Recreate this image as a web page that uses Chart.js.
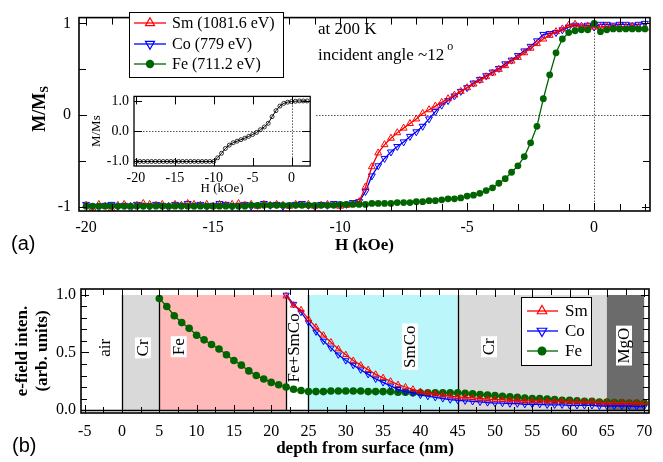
<!DOCTYPE html>
<html lang="en">
<head>
<meta charset="UTF-8">
<title>Element-resolved hysteresis and e-field depth profile</title>
<script src="https://cdn.jsdelivr.net/npm/chart.js"></script>
<style>
  html, body { margin: 0; padding: 0; background: #fff; }
  #page { position: relative; width: 663px; height: 462px; overflow: hidden; background: #fff; }
  .box { position: absolute; }
  #topBox { left: 0; top: 0; width: 663px; height: 260px; }
  #botBox { left: 0; top: 260px; width: 663px; height: 202px; }
  #insetBox { left: 87px; top: 83px; width: 228px; height: 115px; }
  .tag { position: absolute; font: 20px "Liberation Sans", Arial, sans-serif; line-height: 20px; color: #000; }
</style>
</head>
<body>
<div id="page">
  <div class="box" id="topBox"><canvas id="topChart"></canvas></div>
  <div class="box" id="botBox"><canvas id="botChart"></canvas></div>
  <div class="box" id="insetBox"><canvas id="insetChart"></canvas></div>
  <div class="tag" style="left:11px; top:233px;">(a)</div>
  <div class="tag" style="left:12px; top:435px;">(b)</div>
</div>

<script>
// ---- panel (a): M/Ms vs H ----
const hField = [-20,-19.75,-19.5,-19.25,-19,-18.75,-18.5,-18.25,-18,-17.75,-17.5,-17.25,-17,-16.75,-16.5,-16.25,
  -16,-15.75,-15.5,-15.25,-15,-14.75,-14.5,-14.25,-14,-13.75,-13.5,-13.25,-13,-12.75,-12.5,-12.25,-12,-11.75,-11.5,
  -11.25,-11,-10.75,-10.5,-10.25,-10,-9.75,-9.5,-9.25,-9,-8.75,-8.5,-8.25,-8,-7.75,-7.5,-7.25,-7,-6.75,-6.5,-6.25,
  -6,-5.75,-5.5,-5.25,-5,-4.75,-4.5,-4.25,-4,-3.75,-3.5,-3.25,-3,-2.75,-2.5,-2.25,-2,-1.75,-1.5,-1.25,-1,-0.75,
  -0.5,-0.25,0,0.25,0.5,0.75,1,1.25,1.5,1.75,2];

const smM = [-0.98,-1.01,-0.97,-0.99,-1.02,-0.98,-0.97,-0.99,-0.98,-0.96,-0.97,-0.98,-0.97,-0.99,-0.97,-0.98,
  -0.96,-0.97,-0.98,-0.97,-0.99,-0.97,-0.98,-0.97,-0.96,-0.98,-0.97,-0.99,-0.97,-0.98,-0.97,-0.98,-0.99,-0.97,-0.98,
  -0.97,-0.99,-0.98,-0.97,-0.98,-0.99,
  -0.98,-0.97,-0.94,-0.78,-0.56,-0.41,-0.32,-0.25,-0.19,-0.14,-0.09,-0.04,0.02,0.06,0.10,0.14,
  0.18,0.22,0.26,0.30,0.34,0.38,0.42,0.46,0.50,0.54,0.59,0.63,0.68,0.73,0.78,0.83,
  0.87,0.91,0.94,0.98,0.99,0.97,0.97,0.96,0.96,0.97,0.96,0.97,0.96,0.97,0.96,0.95];

const coM = [-0.97,-0.99,-1.00,-0.98,-0.97,-0.99,-0.98,-1.01,-0.97,-0.98,-0.99,-0.97,-0.98,-1.00,-0.97,-0.98,
  -0.96,-0.98,-0.97,-0.99,-0.98,-0.96,-0.97,-0.99,-0.98,-0.97,-0.99,-0.98,-0.96,-0.98,-0.97,-0.99,-0.98,-0.97,-0.96,
  -0.98,-0.99,-0.97,-0.98,-0.96,-0.98,
  -0.97,-0.95,-0.94,-0.83,-0.66,-0.55,-0.47,-0.40,-0.34,-0.29,-0.23,-0.18,-0.12,-0.04,0.04,0.11,
  0.16,0.21,0.26,0.30,0.35,0.39,0.43,0.47,0.51,0.56,0.60,0.65,0.70,0.75,0.81,0.88,
  0.89,0.90,0.93,0.96,0.98,0.97,0.98,0.96,0.99,0.99,0.98,0.99,0.99,0.98,0.99,1.00];

const feM = [-0.99,-0.99,-0.99,-0.99,-0.99,-0.99,-0.99,-0.99,-0.99,-0.99,-0.99,-0.99,-0.99,-0.99,-0.99,-0.99,
  -0.99,-0.99,-0.99,-0.99,-0.99,-0.99,-0.99,-0.99,-0.99,-0.99,-0.98,-0.98,-0.98,-0.98,-0.98,-0.98,-0.98,-0.98,-0.98,
  -0.98,-0.98,-0.98,-0.98,-0.98,-0.97,
  -0.97,-0.97,-0.97,-0.97,-0.96,-0.96,-0.96,-0.96,-0.95,-0.95,-0.95,-0.94,-0.94,-0.93,-0.93,-0.92,
  -0.91,-0.91,-0.90,-0.88,-0.87,-0.85,-0.82,-0.79,-0.74,-0.69,-0.62,-0.55,-0.45,-0.30,-0.12,0.18,
  0.44,0.68,0.83,0.90,0.92,0.93,0.93,1.00,0.91,0.93,0.94,0.94,0.94,0.94,0.94,0.94];

const hTicks = [-20, -15, -10, -5, 0];
const hMinor = [-19,-18,-17,-16,-14,-13,-12,-11,-9,-8,-7,-6,-4,-3,-2,-1,1,2];
const mTicks = [-1, 0, 1];
const mMinor = [-0.5, 0.5];

// inset: total M/Ms
const insetH = [-20,-19.5,-19,-18.5,-18,-17.5,-17,-16.5,-16,-15.5,-15,-14.5,-14,-13.5,-13,-12.5,-12,-11.5,-11,
  -10.5,-10,-9.5,-9,-8.5,-8,-7.5,-7,-6.5,-6,-5.5,-5,-4.5,-4,-3.5,-3,-2.5,-2,-1.5,-1,-0.5,0,0.5,1,1.5,2];
const insetM = [-1,-1,-1,-1,-1,-1,-1,-1,-1,-1,-1,-1,-1,-1,-1,-1,-1,-1,-1,-1,-1,
  -0.88,-0.73,-0.57,-0.46,-0.38,-0.33,-0.28,-0.23,-0.17,-0.11,-0.04,0.05,0.14,0.26,0.48,0.68,0.83,0.92,0.96,
  0.98,0.99,1.00,1.00,1.00];
const insetHTicks = [-20, -15, -10, -5, 0];
const insetMTicks = [-1, 0, 1];

// ---- panel (b): e-field intensity vs depth ----
const depth = [5,6,7,8,9,10,11,12,13,14,15,16,17,18,19,20,21,22,23,24,25,26,27,28,29,30,31,32,33,34,35,36,37,
  38,39,40,41,42,43,44,45,46,47,48,49,50,51,52,53,54,55,56,57,58,59,60,61,62,63,64,65,66,67,68,69,70];
const smField = [null,null,null,null,null,null,null,null,null,null,null,null,null,null,null,null,null,
  0.99,0.91,0.87,0.79,0.72,0.65,0.59,0.53,0.48,0.43,0.39,0.35,0.31,0.28,0.25,0.22,0.20,0.18,0.16,0.15,0.14,
  0.13,0.12,0.115,0.11,0.105,0.10,0.095,0.09,0.09,0.085,0.085,0.08,0.08,0.08,0.075,0.075,0.075,0.07,0.07,0.07,
  0.07,0.065,0.065,0.065,0.065,0.065,0.06,0.065];
const coField = [null,null,null,null,null,null,null,null,null,null,null,null,null,null,null,null,null,
  1.00,0.92,0.85,0.76,0.68,0.60,0.54,0.48,0.43,0.39,0.35,0.31,0.27,0.24,0.21,0.18,0.16,0.15,0.13,0.12,0.11,
  0.10,0.09,0.085,0.08,0.075,0.07,0.065,0.06,0.06,0.055,0.055,0.05,0.05,0.05,0.045,0.045,0.045,0.04,0.04,0.04,
  0.04,0.035,0.035,0.035,0.035,0.035,0.03,0.03];
const feField = [0.97,0.90,0.82,0.76,0.71,0.65,0.61,0.57,0.53,0.48,0.43,0.39,0.34,0.30,0.27,0.24,0.22,0.20,
  0.18,0.17,0.16,0.16,0.16,0.165,0.165,0.165,0.165,0.165,0.16,0.16,0.16,0.16,0.155,0.155,0.15,0.15,0.15,0.15,
  0.15,0.15,0.15,0.145,0.14,0.135,0.13,0.125,0.12,0.115,0.11,0.105,0.10,0.10,0.095,0.09,0.085,0.085,0.08,0.075,
  0.075,0.07,0.07,0.065,0.065,0.06,0.06,0.06];

const depthTicks = [-5,0,5,10,15,20,25,30,35,40,45,50,55,60,65,70];
const depthMinor = [-2.5,2.5,7.5,12.5,17.5,22.5,27.5,32.5,37.5,42.5,47.5,52.5,57.5,62.5,67.5];
const fieldTicks = [0, 0.5, 1];
const fieldMinor = [0.1,0.2,0.3,0.4,0.6,0.7,0.8,0.9];

// layer stack
const layerNames = ['air', 'Cr', 'Fe', 'Fe+SmCo', 'SmCo', 'Cr', 'MgO'];
const layerFrom  = [-5.5, 0, 5, 22, 25, 45, 65];
const layerTo    = [0, 5, 22, 25, 45, 65, 70];
const layerColor = [null, '#d9d9d9', '#ffb9b9', null, '#bbf7fa', '#d9d9d9', '#6b6b6b'];
const layerLabelAt = [[-2.3, 0.54], [2.8, 0.54], [7.6, 0.55], [23.0, 0.54], [38.6, 0.55], [49.2, 0.55], [67.3, 0.56]];

const SERIF = '"Liberation Serif", "Times New Roman", serif';
const RED = '#ff0000', BLUE = '#0000ff', GREEN = '#006400';
Chart.defaults.font.family = SERIF;
Chart.defaults.color = '#000';

const xy = (xs, ys) => xs.map((x, i) => ({ x: x, y: ys[i] }));
const f = (size, weight, lineHeight) => ({ family: SERIF, size: size, weight: weight || 'normal', lineHeight: lineHeight || 1.2 });

function marker(ctx, style, x, y, r) {
  ctx.beginPath();
  if (style === 'up') {
    ctx.moveTo(x, y - r); ctx.lineTo(x + r * 0.866, y + r / 2); ctx.lineTo(x - r * 0.866, y + r / 2);
    ctx.closePath(); ctx.stroke();
  } else if (style === 'down') {
    ctx.moveTo(x, y + r); ctx.lineTo(x + r * 0.866, y - r / 2); ctx.lineTo(x - r * 0.866, y - r / 2);
    ctx.closePath(); ctx.stroke();
  } else {
    ctx.arc(x, y, r, 0, Math.PI * 2); ctx.fill();
  }
}

// frame with inward ticks on all four sides
function framePlugin(cfg) {
  return {
    id: 'frame',
    afterDatasetsDraw(chart) {
      const { ctx, chartArea: a } = chart;
      const xs = chart.scales.x, ys = chart.scales.y;
      ctx.save();
      ctx.strokeStyle = '#000';
      ctx.lineWidth = 1;
      ctx.beginPath();
      const xt = (vals, len) => vals.forEach(v => {
        const p = Math.round(xs.getPixelForValue(v)) + 0.5;
        ctx.moveTo(p, a.bottom); ctx.lineTo(p, a.bottom - len);
        ctx.moveTo(p, a.top); ctx.lineTo(p, a.top + len);
      });
      const yt = (vals, len) => vals.forEach(v => {
        const p = Math.round(ys.getPixelForValue(v)) + 0.5;
        ctx.moveTo(a.left, p); ctx.lineTo(a.left + len, p);
        ctx.moveTo(a.right, p); ctx.lineTo(a.right - len, p);
      });
      xt(cfg.xMajor, cfg.major); xt(cfg.xMinor, cfg.minor);
      yt(cfg.yMajor, cfg.major); yt(cfg.yMinor, cfg.minor);
      ctx.stroke();
      ctx.lineWidth = cfg.frameWidth;
      ctx.strokeRect(a.left, a.top, a.right - a.left, a.bottom - a.top);
      ctx.restore();
    }
  };
}

function dottedZero(ctx, chart) {
  const { chartArea: a } = chart;
  const x0 = chart.scales.x.getPixelForValue(0), y0 = chart.scales.y.getPixelForValue(0);
  ctx.save();
  ctx.strokeStyle = '#555';
  ctx.lineWidth = 1;
  ctx.setLineDash([1.5, 1.5]);
  ctx.beginPath();
  ctx.moveTo(a.left, Math.round(y0) + 0.5); ctx.lineTo(a.right, Math.round(y0) + 0.5);
  ctx.moveTo(Math.round(x0) + 0.5, a.top); ctx.lineTo(Math.round(x0) + 0.5, a.bottom);
  ctx.stroke();
  ctx.restore();
}

const topDecor = {
  id: 'topDecor',
  beforeDatasetsDraw(chart) { dottedZero(chart.ctx, chart); },
  afterDraw(chart) {
    const ctx = chart.ctx;
    ctx.save();
    // y title M/M_S
    ctx.translate(40, 109);
    ctx.rotate(-Math.PI / 2);
    ctx.fillStyle = '#000';
    ctx.textBaseline = 'middle';
    ctx.font = 'bold 18px ' + SERIF;
    const w1 = ctx.measureText('M/M').width;
    ctx.font = 'bold 12px ' + SERIF;
    const w2 = ctx.measureText('S').width;
    ctx.font = 'bold 18px ' + SERIF;
    ctx.fillText('M/M', -(w1 + w2) / 2, 0);
    ctx.font = 'bold 12px ' + SERIF;
    ctx.fillText('S', -(w1 + w2) / 2 + w1, 5);
    ctx.restore();

    // legend
    ctx.save();
    ctx.fillStyle = '#fff';
    ctx.fillRect(129.5, 12.5, 154, 65);
    ctx.strokeStyle = '#000';
    ctx.lineWidth = 1;
    ctx.strokeRect(129.5, 12.5, 154, 65);
    const items = [['Sm (1081.6 eV)', RED, 'up', 23], ['Co (779 eV)', BLUE, 'down', 44], ['Fe (711.2 eV)', GREEN, 'dot', 64]];
    items.forEach(([t, c, s, y]) => {
      ctx.strokeStyle = c; ctx.fillStyle = c; ctx.lineWidth = 1.3;
      ctx.beginPath(); ctx.moveTo(134, y); ctx.lineTo(166, y); ctx.stroke();
      ctx.lineWidth = 1.2;
      marker(ctx, s, 150, y, s === 'dot' ? 4.2 : 5.2);
      ctx.fillStyle = '#000';
      ctx.font = '16px ' + SERIF;
      ctx.textBaseline = 'middle';
      ctx.fillText(t, 172, y + 1);
    });
    // annotations
    ctx.font = '17px ' + SERIF;
    ctx.fillText('at 200 K', 318, 30);
    ctx.fillText('incident angle ~12', 318, 56);
    const wa = ctx.measureText('incident angle ~12').width;
    ctx.font = '12px ' + SERIF;
    ctx.fillText('o', 318 + wa + 3, 47);
    ctx.restore();
  }
};

const bottomDecor = {
  id: 'bottomDecor',
  beforeDatasetsDraw(chart) {
    const { ctx, chartArea: a } = chart;
    const xs = chart.scales.x, ys = chart.scales.y;
    const yTop = ys.getPixelForValue(1), yBot = ys.getPixelForValue(0);
    ctx.save();
    layerNames.forEach((n, i) => {
      const x1 = xs.getPixelForValue(layerFrom[i]), x2 = xs.getPixelForValue(layerTo[i]);
      if (layerColor[i]) {
        ctx.fillStyle = layerColor[i];
        ctx.fillRect(x1, yTop, x2 - x1, yBot - yTop);
      }
    });
    // layer boundaries
    ctx.strokeStyle = '#000';
    ctx.lineWidth = 1.3;
    ctx.beginPath();
    [0, 5, 22, 25, 45].forEach(v => {
      const p = Math.round(xs.getPixelForValue(v)) + 0.5;
      ctx.moveTo(p, yTop); ctx.lineTo(p, yBot);
    });
    ctx.moveTo(a.left, Math.round(yBot) + 0.5); ctx.lineTo(a.right, Math.round(yBot) + 0.5);
    ctx.stroke();
    // layer labels
    ctx.font = '17px ' + SERIF;
    ctx.textAlign = 'center';
    ctx.textBaseline = 'middle';
    layerNames.forEach((n, i) => {
      const px = xs.getPixelForValue(layerLabelAt[i][0]), py = ys.getPixelForValue(layerLabelAt[i][1]);
      ctx.save();
      ctx.translate(px, py);
      ctx.rotate(-Math.PI / 2);
      const w = ctx.measureText(n).width;
      if (layerColor[i]) {
        ctx.fillStyle = '#fff';
        ctx.fillRect(-w / 2 - 2, -8, w + 4, 16);
      }
      ctx.fillStyle = '#000';
      ctx.fillText(n, 0, 1);
      ctx.restore();
    });
    ctx.restore();
  },
  afterDatasetsDraw(chart) {
    const ctx = chart.ctx;
    ctx.save();
    ctx.fillStyle = '#fff';
    ctx.fillRect(521.5, 37.5, 70, 68);
    ctx.strokeStyle = '#000';
    ctx.lineWidth = 1;
    ctx.strokeRect(521.5, 37.5, 70, 68);
    const items = [['Sm', RED, 'up', 51], ['Co', BLUE, 'down', 71], ['Fe', GREEN, 'dot', 91]];
    items.forEach(([t, c, s, y]) => {
      ctx.strokeStyle = c; ctx.fillStyle = c; ctx.lineWidth = 1.3;
      ctx.beginPath(); ctx.moveTo(527, y); ctx.lineTo(558, y); ctx.stroke();
      ctx.lineWidth = 1.2;
      marker(ctx, s, 542, y, s === 'dot' ? 4.5 : 5.5);
      ctx.fillStyle = '#000';
      ctx.font = '17px ' + SERIF;
      ctx.textBaseline = 'middle';
      ctx.fillText(t, 565, y + 1);
    });
    ctx.restore();
  }
};

const insetDecor = {
  id: 'insetDecor',
  beforeDraw(chart) {
    const ctx = chart.ctx;
    ctx.save();
    ctx.fillStyle = '#fff';
    ctx.fillRect(0, 0, chart.width, chart.height);
    ctx.restore();
  },
  beforeDatasetsDraw(chart) { dottedZero(chart.ctx, chart); }
};

const noGrid = { display: false, drawTicks: false };
const setTicks = list => s => { s.ticks = list.map(v => ({ value: v })); };

// panel (a)
new Chart(document.getElementById('topChart'), {
  type: 'scatter',
  data: {
    datasets: [
      { label: 'Sm (1081.6 eV)', data: xy(hField, smM), showLine: true, borderColor: RED, borderWidth: 1.3,
        pointStyle: 'triangle', pointRadius: 4, pointBorderWidth: 1, pointBackgroundColor: 'rgba(0,0,0,0)',
        pointBorderColor: RED, order: 1 },
      { label: 'Co (779 eV)', data: xy(hField, coM), showLine: true, borderColor: BLUE, borderWidth: 1.3,
        pointStyle: 'triangle', pointRotation: 180, pointRadius: 4, pointBorderWidth: 1,
        pointBackgroundColor: 'rgba(0,0,0,0)', pointBorderColor: BLUE, order: 2 },
      { label: 'Fe (711.2 eV)', data: xy(hField, feM), showLine: true, borderColor: GREEN, borderWidth: 1.3,
        pointStyle: 'circle', pointRadius: 3.4, pointBorderWidth: 0, pointBackgroundColor: GREEN, order: 0 }
    ]
  },
  options: {
    responsive: true, maintainAspectRatio: false, animation: false,
    layout: { padding: { left: 0, right: 13, top: 10, bottom: 0 } },
    plugins: { legend: { display: false }, tooltip: { enabled: false } },
    scales: {
      x: { type: 'linear', min: -20.28, max: 2.2, grid: noGrid, border: { display: false },
        afterBuildTicks: setTicks(hTicks), afterFit: s => { s.height = 49; },
        ticks: { padding: 7, font: f(16), color: '#000', callback: v => String(v) },
        title: { display: true, text: 'H (kOe)', color: '#000', font: f(17, 'bold'), padding: { top: 0, bottom: 4 } } },
      y: { type: 'linear', min: -1.042, max: 1.063, grid: noGrid, border: { display: false },
        afterBuildTicks: setTicks(mTicks), afterFit: s => { s.width = 79; },
        ticks: { padding: 8, font: f(16), color: '#000', callback: v => String(v) } }
    }
  },
  plugins: [topDecor, framePlugin({ xMajor: hTicks, xMinor: hMinor, yMajor: mTicks, yMinor: mMinor, major: 8, minor: 7, frameWidth: 1.6 })]
});

// inset
new Chart(document.getElementById('insetChart'), {
  type: 'scatter',
  data: {
    datasets: [
      { label: 'M/Ms', data: xy(insetH, insetM), showLine: true, borderColor: '#000', borderWidth: 1,
        pointStyle: 'circle', pointRadius: 2, pointBorderWidth: 0.8, pointBackgroundColor: 'rgba(0,0,0,0)',
        pointBorderColor: '#000' }
    ]
  },
  options: {
    responsive: true, maintainAspectRatio: false, animation: false,
    layout: { padding: { left: 0, right: 2, top: 6, bottom: 0 } },
    plugins: { legend: { display: false }, tooltip: { enabled: false } },
    scales: {
      x: { type: 'linear', min: -20.25, max: 2.4, grid: noGrid, border: { display: false },
        afterBuildTicks: setTicks(insetHTicks), afterFit: s => { s.height = 32; },
        ticks: { padding: 4, font: f(14), color: '#000', callback: v => String(v) },
        title: { display: true, text: 'H (kOe)', color: '#000', font: f(13), padding: { top: 0, bottom: 2 } } },
      y: { type: 'linear', min: -1.15, max: 1.15, grid: noGrid, border: { display: false },
        afterBuildTicks: setTicks(insetMTicks), afterFit: s => { s.width = 47; },
        ticks: { padding: 5, font: f(14), color: '#000', callback: v => v.toFixed(1) },
        title: { display: true, text: 'M/Ms', color: '#000', font: f(13), padding: { top: 2, bottom: 0 } } }
    }
  },
  plugins: [insetDecor, framePlugin({ xMajor: insetHTicks, xMinor: [], yMajor: insetMTicks, yMinor: [], major: 8, minor: 5, frameWidth: 1.3 })]
});

// panel (b)
new Chart(document.getElementById('botChart'), {
  type: 'scatter',
  data: {
    datasets: [
      { label: 'Sm', data: xy(depth, smField), showLine: true, borderColor: RED, borderWidth: 1.3,
        pointStyle: 'triangle', pointRadius: 3.6, pointBorderWidth: 1, pointBackgroundColor: 'rgba(0,0,0,0)',
        pointBorderColor: RED, order: 1 },
      { label: 'Co', data: xy(depth, coField), showLine: true, borderColor: BLUE, borderWidth: 1.3,
        pointStyle: 'triangle', pointRotation: 180, pointRadius: 3.6, pointBorderWidth: 1,
        pointBackgroundColor: 'rgba(0,0,0,0)', pointBorderColor: BLUE, order: 2 },
      { label: 'Fe', data: xy(depth, feField), showLine: true, borderColor: GREEN, borderWidth: 1.3,
        pointStyle: 'circle', pointRadius: 3.8, pointBorderWidth: 0, pointBackgroundColor: GREEN, order: 3 }
    ]
  },
  options: {
    responsive: true, maintainAspectRatio: false, animation: false,
    layout: { padding: { left: 0, right: 14, top: 29, bottom: 0 } },
    plugins: { legend: { display: false }, tooltip: { enabled: false } },
    scales: {
      x: { type: 'linear', min: -5.5, max: 70.65, grid: noGrid, border: { display: false },
        afterBuildTicks: setTicks(depthTicks), afterFit: s => { s.height = 49; },
        ticks: { padding: 9, font: f(16), color: '#000', callback: v => String(v) },
        title: { display: true, text: 'depth from surface (nm)', color: '#000', font: f(17, 'bold'), padding: { top: 0, bottom: 3 } } },
      y: { type: 'linear', min: -0.026, max: 1.052, grid: noGrid, border: { display: false },
        afterBuildTicks: setTicks(fieldTicks), afterFit: s => { s.width = 81; },
        ticks: { padding: 5, font: f(16), color: '#000', callback: v => v.toFixed(1) },
        title: { display: true, text: ['e-field inten.', '(arb. units)'], color: '#000', font: f(17, 'bold', 1.18),
          padding: { top: 13, bottom: 0 } } }
    }
  },
  plugins: [bottomDecor, framePlugin({ xMajor: depthTicks, xMinor: depthMinor, yMajor: fieldTicks, yMinor: fieldMinor, major: 8, minor: 6, frameWidth: 1.6 })]
});
</script>
</body>
</html>
